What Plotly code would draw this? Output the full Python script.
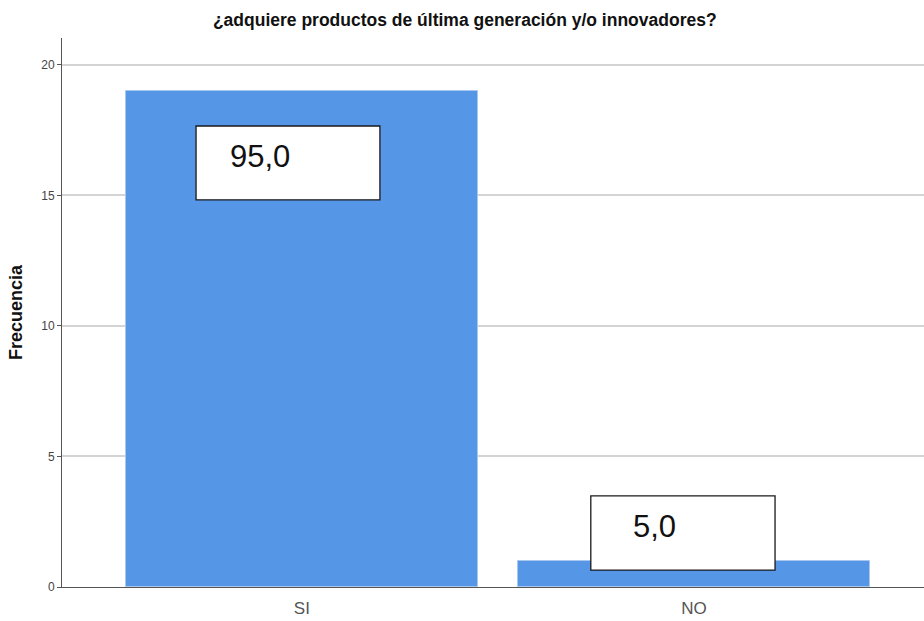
import plotly.graph_objects as go

# Respuestas y frecuencias
categorias = ["SI", "NO"]
frecuencias = [19, 1]
ticks_y = [0, 5, 10, 15, 20]

total = sum(frecuencias)
porcentajes = [f / total * 100 for f in frecuencias]
etiquetas = [f"{p:.1f}".replace(".", ",") for p in porcentajes]

AZUL = "#5596e6"
SANS = "Liberation Sans, Arial, sans-serif"

fig = go.Figure(
    go.Bar(
        x=categorias,
        y=frecuencias,
        width=0.898,
        marker=dict(color=AZUL, line=dict(color="#a9c8f0", width=1)),
        hoverinfo="skip",
    )
)

# Cajas con el porcentaje de cada categoría (offsets en unidades del eje)
cajas = [
    dict(x0=-0.270, x1=0.199, y0=14.83, y1=17.66, sangria=32),
    dict(x0=-0.263, x1=0.207, y0=0.65, y1=3.49, sangria=40),
]
for i, (caja, txt) in enumerate(zip(cajas, etiquetas)):
    fig.add_shape(
        type="rect", xref="x", yref="y",
        x0=i + caja["x0"], x1=i + caja["x1"], y0=caja["y0"], y1=caja["y1"],
        fillcolor="white", line=dict(color="#1a1a1a", width=1.3), layer="above",
    )
    fig.add_annotation(
        x=i + caja["x0"], y=(caja["y0"] + caja["y1"]) / 2 + 0.25,
        xref="x", yref="y", xanchor="left", yanchor="middle",
        xshift=caja["sangria"], text=txt, showarrow=False,
        font=dict(family=SANS, size=31, color="#111"),
    )

fig.update_layout(
    width=924, height=621,
    margin=dict(l=62, r=0, t=38, b=34),
    paper_bgcolor="white", plot_bgcolor="white",
    showlegend=False,
    bargap=0,
    title=dict(
        text="<b>¿adquiere productos de última generación y/o innovadores?</b>",
        x=0.503, xanchor="center", y=0.968, yanchor="middle",
        font=dict(family=SANS, size=17.5, color="#111"),
    ),
    xaxis=dict(
        range=[-0.612, 1.587],
        showgrid=False, showline=True, linecolor="#555", linewidth=1,
        ticks="outside", ticklen=6, tickcolor="rgba(0,0,0,0)",
        tickfont=dict(family=SANS, size=17, color="#555"),
        fixedrange=True,
    ),
    yaxis=dict(
        range=[0, 21.03],
        tickvals=ticks_y,
        showgrid=True, gridcolor="#d4d4d4", gridwidth=2,
        showline=True, linecolor="#555", linewidth=1,
        ticks="outside", ticklen=4, tickcolor="#555",
        zeroline=False,
        tickfont=dict(family=SANS, size=12, color="#444"),
        title=dict(
            text="<b>Frecuencia</b>", standoff=13,
            font=dict(family=SANS, size=18, color="#111"),
        ),
        fixedrange=True,
    ),
)

fig.write_html("out.html")
